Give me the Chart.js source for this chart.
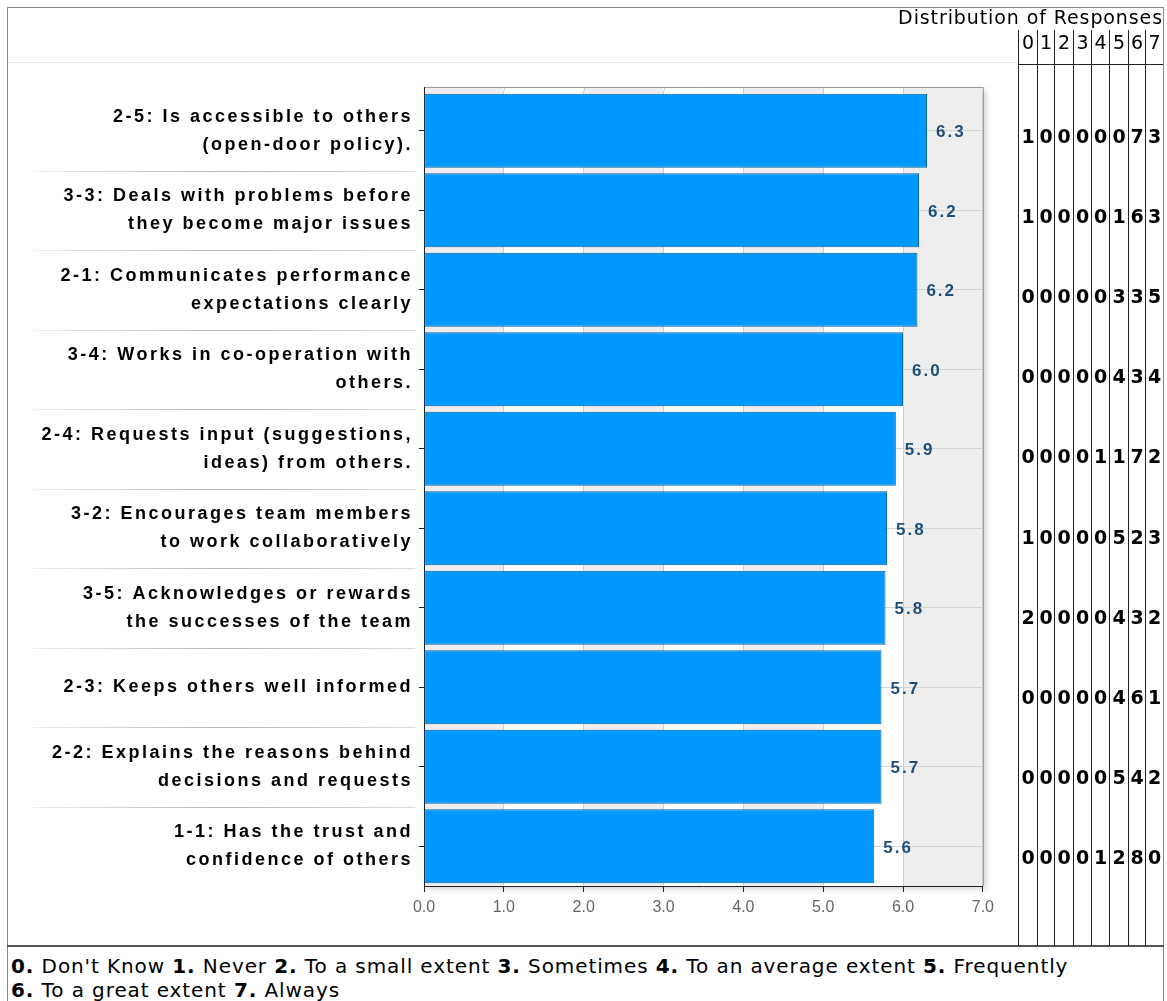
<!DOCTYPE html>
<html>
<head>
<meta charset="utf-8">
<script src="https://cdn.jsdelivr.net/npm/chart.js@4/dist/chart.umd.min.js"></script>
<style>
body { margin: 0; background: #fff; }
#page { position: relative; width: 1167px; height: 1001px; overflow: hidden; font-family: "DejaVu Sans", Verdana, sans-serif; color: #000; }
#frame { position: absolute; left: 7px; top: 7px; width: 1155px; height: 1000px; border: 1px solid #888; border-bottom: none; }
#chartBox { position: absolute; left: 0; top: 0; }
#distTitle { position: absolute; right: 4px; top: 5px; font-size: 19px; line-height: 24px; letter-spacing: 0.9px; white-space: nowrap; }
.col { position: absolute; top: 30px; height: 916px; border-left: 1px solid #222; }
.colHead { position: absolute; top: 30px; font-size: 19px; line-height: 24px; text-align: center; }
.cnt { position: absolute; font-size: 19px; font-weight: bold; line-height: 24px; text-align: center; }
#topLine { position: absolute; left: 8px; width: 1010px; top: 62px; height: 1px; background: #e6e6e6; }
#headLine { position: absolute; left: 1018px; width: 145px; top: 64px; height: 1px; background: #222; }
#bottomLine { position: absolute; left: 7px; width: 1157px; top: 945px; height: 2px; background: #555; }
#legend { position: absolute; left: 11px; top: 954px; font-size: 20px; line-height: 24px; letter-spacing: 0.9px; white-space: nowrap; }
</style>
</head>
<body>
<div id="page">
  <div id="frame"></div>
  <div id="topLine"></div>
  <div id="chartBox"><canvas id="barChart" width="1000" height="940"></canvas></div>
  <div id="distTitle">Distribution of Responses</div>
  <div id="headLine"></div>
  <div id="bottomLine"></div>
  <div id="legend"></div>
</div>
<script>
const questionLabels = [
  ["2-5: Is accessible to others", "(open-door policy)."],
  ["3-3: Deals with problems before", "they become major issues"],
  ["2-1: Communicates performance", "expectations clearly"],
  ["3-4: Works in co-operation with", "others."],
  ["2-4: Requests input (suggestions,", "ideas) from others."],
  ["3-2: Encourages team members", "to work collaboratively"],
  ["3-5: Acknowledges or rewards", "the successes of the team"],
  "2-3: Keeps others well informed",
  ["2-2: Explains the reasons behind", "decisions and requests"],
  ["1-1: Has the trust and", "confidence of others"]
]
const meanScores = [6.3, 6.2, 6.18, 6.0, 5.91, 5.8, 5.78, 5.73, 5.73, 5.64]

const responseCodes = ["0", "1", "2", "3", "4", "5", "6", "7"]
const responseCounts = [
  [1, 0, 0, 0, 0, 0, 7, 3],
  [1, 0, 0, 0, 0, 1, 6, 3],
  [0, 0, 0, 0, 0, 3, 3, 5],
  [0, 0, 0, 0, 0, 4, 3, 4],
  [0, 0, 0, 0, 1, 1, 7, 2],
  [1, 0, 0, 0, 0, 5, 2, 3],
  [2, 0, 0, 0, 0, 4, 3, 2],
  [0, 0, 0, 0, 0, 4, 6, 1],
  [0, 0, 0, 0, 0, 5, 4, 2],
  [0, 0, 0, 0, 1, 2, 8, 0]
]
const responseNames = ["Don't Know", "Never", "To a small extent", "Sometimes",
  "To an average extent", "Frequently", "To a great extent", "Always"]

// distribution table on the right
const page = document.getElementById('page')
const colX = [1018, 1037, 1054, 1073, 1091, 1109, 1128, 1145, 1163]
for (let c = 0; c < responseCodes.length; ++c) {
  let w = colX[c + 1] - colX[c]
  let line = document.createElement('div')
  line.className = 'col'
  line.style.left = colX[c] + 'px'
  line.style.width = (w - 1) + 'px'
  page.appendChild(line)

  let head = document.createElement('div')
  head.className = 'colHead'
  head.style.left = (colX[c] + 1) + 'px'
  head.style.width = (w - 1) + 'px'
  head.textContent = responseCodes[c]
  page.appendChild(head)

  for (let r = 0; r < responseCounts.length; ++r) {
    let cell = document.createElement('div')
    cell.className = 'cnt'
    cell.style.left = (colX[c] + 1) + 'px'
    cell.style.width = (w - 1) + 'px'
    cell.style.top = Math.round(135 + r * 80.1 - 11) + 'px'
    cell.textContent = responseCounts[r][c]
    page.appendChild(cell)
  }
}

// legend
let legendHtml = ''
for (let i = 0; i < responseNames.length; ++i) {
  legendHtml += '<b>' + responseCodes[i] + '.</b> ' + responseNames[i]
  legendHtml += (i == 5) ? '<br>' : ' '
}
document.getElementById('legend').innerHTML = legendHtml

// plot frame starts a little above the first category
const frameTop = 87
const plotTop = 91

const decorPlugin = {
  id: 'decor',
  beforeDraw(chart) {
    const ctx = chart.ctx
    const a = chart.chartArea
    const xs = chart.scales.x

    // letter-spaced category labels
    const ys = chart.scales.y
    if (!ys._spaced) {
      const orig = ys.drawLabels
      ys.drawLabels = function(area) {
        this.ctx.save()
        this.ctx.letterSpacing = '2.5px'
        orig.call(this, area)
        this.ctx.restore()
      }
      ys._spaced = true
    }

    ctx.save()
    // soft shadow
    ctx.shadowColor = 'rgba(0,0,0,0.18)'
    ctx.shadowBlur = 6
    ctx.shadowOffsetX = 3
    ctx.shadowOffsetY = 3
    ctx.fillStyle = '#fff'
    ctx.fillRect(a.left, frameTop, a.right - a.left, a.bottom - frameTop)
    ctx.restore()

    // alternating bands
    ctx.save()
    for (let v = 0; v < 7; ++v) {
      let x0 = xs.getPixelForValue(v)
      let x1 = xs.getPixelForValue(v + 1)
      ctx.fillStyle = (v % 2 == 0) ? '#eeeeee' : '#ffffff'
      ctx.fillRect(x0, frameTop, x1 - x0, a.bottom - frameTop)
      if (v > 0) {
        ctx.strokeStyle = '#cfcfcf'
        ctx.lineWidth = 1
        ctx.beginPath()
        ctx.moveTo(Math.round(x0) + 0.5, frameTop)
        ctx.lineTo(Math.round(x0) + 0.5, a.top)
        ctx.stroke()
      }
    }

    // separators between the category labels
    let n = chart.data.labels.length
    let step = (a.bottom - a.top) / n
    for (let k = 1; k < n; ++k) {
      let y = Math.round(a.top + step * k) + 0.5
      let g = ctx.createLinearGradient(33, 0, 415, 0)
      g.addColorStop(0, '#eeeeee')
      g.addColorStop(0.5, '#b5b5b5')
      g.addColorStop(1, '#dddddd')
      ctx.strokeStyle = g
      ctx.lineWidth = 1
      ctx.beginPath()
      ctx.moveTo(33, y)
      ctx.lineTo(415, y)
      ctx.stroke()
    }
    ctx.restore()
  },
  beforeDatasetsDraw(chart) {
    const ctx = chart.ctx
    const a = chart.chartArea
    ctx.save()
    ctx.lineWidth = 1
    ctx.strokeStyle = '#999'
    ctx.beginPath()
    ctx.moveTo(a.left, frameTop + 0.5)
    ctx.lineTo(a.right + 0.5, frameTop + 0.5)
    ctx.lineTo(a.right + 0.5, a.bottom)
    ctx.stroke()
    ctx.strokeStyle = '#222'
    ctx.beginPath()
    ctx.moveTo(a.left + 0.5, frameTop)
    ctx.lineTo(a.left + 0.5, a.bottom)
    ctx.stroke()
    ctx.restore()
  },
  afterDatasetsDraw(chart) {
    const ctx = chart.ctx
    const meta = chart.getDatasetMeta(0)
    ctx.save()
    ctx.font = 'bold 17px "Liberation Sans", Arial, sans-serif'
    ctx.letterSpacing = '2px'
    ctx.fillStyle = '#1d4f7a'
    ctx.textAlign = 'left'
    ctx.textBaseline = 'middle'
    meta.data.forEach((bar, i) => {
      let v = chart.data.datasets[0].data[i]
      ctx.fillText(v.toFixed(1), bar.x + 9, bar.y + 2)
    })
    ctx.restore()
  }
}

new Chart(document.getElementById('barChart'), {
  type: 'bar',
  data: {
    labels: questionLabels,
    datasets: [{
      data: meanScores,
      backgroundColor: '#0099ff',
      borderColor: '#0d5f9a',
      borderWidth: 1,
      borderSkipped: false,
      barPercentage: 0.93,
      categoryPercentage: 1
    }]
  },
  options: {
    indexAxis: 'y',
    responsive: false,
    animation: false,
    devicePixelRatio: 1,
    layout: { padding: { left: 0, right: 15, top: plotTop, bottom: 0 } },
    plugins: {
      legend: { display: false },
      tooltip: { enabled: false }
    },
    scales: {
      x: {
        min: 0,
        max: 7,
        ticks: {
          stepSize: 1,
          callback: v => v.toFixed(1),
          color: '#666',
          font: { family: 'Liberation Sans', size: 16 },
          padding: 6
        },
        grid: { color: '#cfcfcf', tickColor: '#222', tickLength: 6 },
        border: { display: true, color: '#222' },
        afterFit(s) { s.height = 54 }
      },
      y: {
        grid: { offset: false, color: '#d4d4d4', tickColor: '#222', tickLength: 5 },
        border: { display: false },
        ticks: {
          color: '#000',
          autoSkip: false,
          padding: 6,
          font: { family: 'Liberation Sans', size: 18, weight: 'bold', lineHeight: 1.55 }
        },
        afterFit(s) { s.width = 424 }
      }
    }
  },
  plugins: [decorPlugin]
})
</script>
</body>
</html>
